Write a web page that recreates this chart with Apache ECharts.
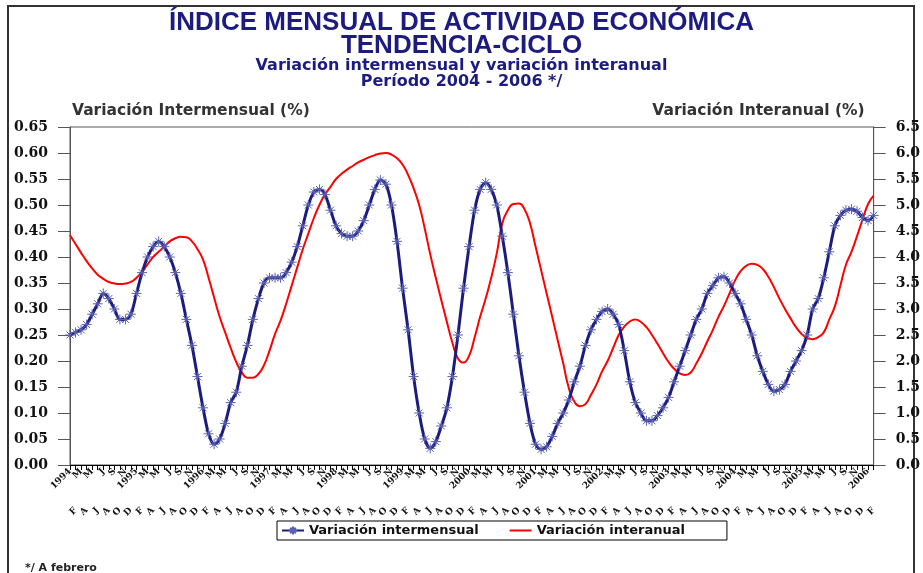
<!DOCTYPE html>
<html>
<head>
<meta charset="utf-8">
<script src="https://cdn.jsdelivr.net/npm/echarts@6/dist/echarts.min.js"></script>
<style>
  html, body { margin: 0; padding: 0; background: #fff; }
  #chart { width: 923px; height: 573px; }
</style>
</head>
<body>
<div id="chart"></div>
<script>
// ejes
const years = ['1994', '1995', '1996', '1997', '1998', '1999', '2000', '2001', '2002', '2003', '2004', '2005', '2006'];
const monthInitials = ['E', 'F', 'M', 'A', 'M', 'J', 'J', 'A', 'S', 'O', 'N', 'D'];
const lastMonthCount = 2; // 2006: enero y febrero

// variación intermensual (%), eje izquierdo
const intermensual = [
  0.25, 0.255, 0.26, 0.27, 0.29, 0.31, 0.33, 0.32, 0.30, 0.28, 0.28, 0.29,
  0.33, 0.37, 0.40, 0.42, 0.43, 0.42, 0.40, 0.37, 0.33, 0.28, 0.23, 0.17,
  0.11, 0.06, 0.04, 0.05, 0.08, 0.12, 0.14, 0.19, 0.23, 0.28, 0.32, 0.35,
  0.36, 0.36, 0.36, 0.37, 0.39, 0.42, 0.46, 0.50, 0.525, 0.53, 0.52, 0.49,
  0.46, 0.445, 0.44, 0.44, 0.45, 0.47, 0.50, 0.53, 0.548, 0.54, 0.50, 0.43,
  0.34, 0.26, 0.17, 0.10, 0.05, 0.032, 0.045, 0.075, 0.11, 0.17, 0.25, 0.34,
  0.42, 0.49, 0.53, 0.543, 0.53, 0.50, 0.44, 0.37, 0.29, 0.21, 0.14, 0.08,
  0.04, 0.03, 0.035, 0.055, 0.08, 0.10, 0.125, 0.16, 0.19, 0.23, 0.26, 0.28,
  0.295, 0.30, 0.29, 0.27, 0.22, 0.16, 0.12, 0.10, 0.085, 0.085, 0.095, 0.11,
  0.13, 0.16, 0.19, 0.22, 0.25, 0.28, 0.30, 0.33, 0.345, 0.36, 0.362, 0.35,
  0.33, 0.31, 0.28, 0.25, 0.21, 0.18, 0.155, 0.142, 0.145, 0.155, 0.18, 0.20,
  0.22, 0.25, 0.30, 0.32, 0.36, 0.41, 0.46, 0.48, 0.49, 0.492, 0.488, 0.476,
  0.47, 0.48
];

// variación interanual (%), eje derecho
const interanual = [
  4.42, 4.25, 4.08, 3.92, 3.78, 3.66, 3.58, 3.52, 3.49, 3.48, 3.49, 3.52,
  3.60, 3.72, 3.86, 4.00, 4.10, 4.20, 4.30, 4.36, 4.39, 4.38, 4.30, 4.15,
  3.95, 3.60, 3.22, 2.85, 2.55, 2.25, 1.98, 1.78, 1.68, 1.68, 1.75, 1.92,
  2.20, 2.52, 2.78, 3.10, 3.45, 3.80, 4.15, 4.45, 4.75, 5.00, 5.20, 5.35,
  5.50, 5.60, 5.68, 5.75, 5.82, 5.87, 5.92, 5.96, 5.99, 6.00, 5.97, 5.90,
  5.78, 5.58, 5.32, 5.00, 4.55, 4.05, 3.60, 3.17, 2.75, 2.35, 2.05, 1.97,
  2.10, 2.45, 2.85, 3.20, 3.60, 4.07, 4.65, 4.90, 5.02, 5.03, 4.92, 4.65,
  4.20, 3.75, 3.30, 2.85, 2.40, 1.95, 1.48, 1.22, 1.13, 1.17, 1.35, 1.55,
  1.80, 2.00, 2.25, 2.50, 2.66, 2.76, 2.80, 2.75, 2.65, 2.50, 2.33, 2.15,
  1.98, 1.85, 1.76, 1.73, 1.78, 1.95, 2.15, 2.38, 2.60, 2.85, 3.06, 3.30,
  3.55, 3.73, 3.83, 3.87, 3.85, 3.77, 3.62, 3.42, 3.20, 3.00, 2.82, 2.65,
  2.52, 2.44, 2.42, 2.46, 2.55, 2.80, 3.05, 3.45, 3.85, 4.10, 4.40, 4.72,
  5.02, 5.18
];

const categories = [];
years.forEach((y, yi) => {
  const n = yi === years.length - 1 ? lastMonthCount : 12;
  for (let m = 0; m < n; m++) categories.push(m === 0 ? y : monthInitials[m]);
});

const navy = '#1c1c80';
const starPath = 'path://M5,0L5,10M0,5L10,5M1.5,1.5L8.5,8.5M1.5,8.5L8.5,1.5';
const tickFont = { fontFamily: 'DejaVu Serif', fontWeight: 'bold', fontSize: 14, color: '#111' };
const xFont = { fontFamily: 'DejaVu Serif', fontWeight: 'bold', fontSize: 9, color: '#111' };
const nameFont = { fontFamily: 'DejaVu Sans', fontWeight: 'bold', fontSize: 15.5, color: '#333' };

const chart = echarts.init(document.getElementById('chart'));
chart.setOption({
  backgroundColor: '#fff',
  animation: false,
  title: [
    { text: 'ÍNDICE MENSUAL DE ACTIVIDAD ECONÓMICA', left: 'center', top: 5,
      textStyle: { fontFamily: 'Liberation Sans', fontWeight: 'bold', fontSize: 26, color: navy } },
    { text: 'TENDENCIA-CICLO', left: 'center', top: 28,
      textStyle: { fontFamily: 'Liberation Sans', fontWeight: 'bold', fontSize: 26, color: navy } },
    { text: 'Variación intermensual y variación interanual', left: 'center', top: 53,
      textStyle: { fontFamily: 'DejaVu Sans', fontWeight: 'bold', fontSize: 16, color: navy } },
    { text: 'Período 2004 - 2006 */', left: 'center', top: 69,
      textStyle: { fontFamily: 'DejaVu Sans', fontWeight: 'bold', fontSize: 16, color: navy } },
    { text: '*/ A febrero', left: 20, top: 558,
      textStyle: { fontFamily: 'DejaVu Sans', fontWeight: 'bold', fontSize: 11, color: '#222' } }
  ],
  legend: {
    data: [
      { name: 'Variación intermensual' },
      { name: 'Variación interanual', itemStyle: { opacity: 0 } }
    ],
    left: 277, top: 521,
    itemGap: 30, itemWidth: 22, itemHeight: 10,
    padding: [3, 42, 3, 4],
    borderColor: '#000', borderWidth: 1,
    textStyle: { fontFamily: 'DejaVu Sans', fontWeight: 'bold', fontSize: 13, color: '#111' }
  },
  grid: {
    left: 70, right: 48, top: 127, bottom: 108,
    show: true, borderColor: '#555', borderWidth: 1
  },
  xAxis: [
    {
      type: 'category',
      data: categories,
      boundaryGap: false,
      axisLine: { lineStyle: { color: '#000', width: 1 } },
      axisTick: { interval: 0, length: 5, lineStyle: { color: '#000' } },
      axisLabel: {
        interval: 0,
        formatter: (v, idx) => (idx % 2 === 0 ? v : ''),
        rotate: 45, margin: 5, ...xFont
      },
      splitLine: { show: false }
    },
    {
      type: 'category',
      data: categories,
      boundaryGap: false,
      position: 'bottom',
      offset: 40,
      axisLine: { show: false },
      axisTick: { show: false },
      axisLabel: {
        interval: 0,
        formatter: (v, idx) => (idx % 2 === 1 ? v : ''),
        rotate: 45, margin: 4, ...xFont
      },
      splitLine: { show: false }
    }
  ],
  yAxis: [
    {
      type: 'value', min: 0, max: 0.65, interval: 0.05,
      name: 'Variación Intermensual (%)',
      nameLocation: 'end', nameGap: 8,
      nameTextStyle: { align: 'left', padding: [0, 0, 0, 2], ...nameFont },
      axisLine: { show: true, lineStyle: { color: '#555' } },
      axisTick: { show: true, length: 12, lineStyle: { color: '#555' } },
      axisLabel: { formatter: (v) => v.toFixed(2), margin: 22, ...tickFont },
      splitLine: { show: false }
    },
    {
      type: 'value', min: 0, max: 6.5, interval: 0.5,
      name: 'Variación Interanual (%)',
      nameLocation: 'end', nameGap: 8,
      nameTextStyle: { align: 'right', padding: [0, 9, 0, 0], ...nameFont },
      axisLine: { show: true, lineStyle: { color: '#555' } },
      axisTick: { show: true, length: 12, lineStyle: { color: '#555' } },
      axisLabel: { formatter: (v) => v.toFixed(1), margin: 22, ...tickFont },
      splitLine: { show: false }
    }
  ],
  series: [
    {
      name: 'Variación intermensual',
      type: 'line',
      data: intermensual,
      xAxisIndex: 0, yAxisIndex: 0,
      smooth: 0.3,
      z: 3,
      symbol: starPath,
      symbolSize: 10,
      lineStyle: { color: navy, width: 3 },
      itemStyle: { color: '#5a62b0', borderColor: '#5a62b0', borderWidth: 1 }
    },
    {
      name: 'Variación interanual',
      type: 'line',
      data: interanual,
      xAxisIndex: 0, yAxisIndex: 1,
      smooth: true,
      z: 2,
      symbol: 'none',
      lineStyle: { color: '#ff0000', width: 2 },
      itemStyle: { color: '#ff0000' }
    }
  ],
  graphic: [
    {
      type: 'rect', silent: true, z: -1,
      shape: { x: 8, y: 6, width: 906, height: 600 },
      style: { fill: 'none', stroke: '#333', lineWidth: 2 }
    }
  ]
});
</script>
</body>
</html>
